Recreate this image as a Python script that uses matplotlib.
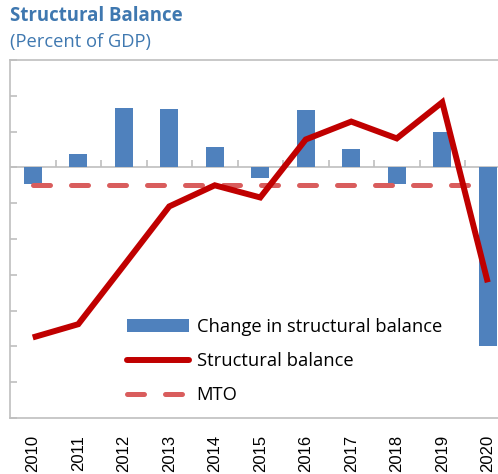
import numpy as np
import matplotlib.pyplot as plt
from matplotlib.patches import Patch
from matplotlib.lines import Line2D

years = ['2010', '2011', '2012', '2013', '2014', '2015',
         '2016', '2017', '2018', '2019', '2020']
change = [-0.45, 0.37, 1.65, 1.62, 0.56, -0.30, 1.60, 0.50, -0.47, 1.00, -5.00]
balance = [-4.75, -4.38, -2.74, -1.09, -0.50, -0.84, 0.78, 1.28, 0.81, 1.82, -3.21]
mto = [-0.5] * 11

BLUE = '#4F81BD'
RED = '#C00000'
MTO_RED = '#D95D5D'
GREY = '#BFBFBF'
TITLE = '#3F78B0'

plt.rcParams['font.family'] = ['Open Sans', 'DejaVu Sans']

W, H = 498, 474
fig = plt.figure(figsize=(W / 100, H / 100), dpi=100)
# plot area runs past the right edge of the picture, like the original
ax = fig.add_axes([10 / W, 56 / H, 500.5 / W, 358 / H])

x = np.arange(len(years))
ax.bar(x, change, width=0.4, color=BLUE, zorder=2)
ax.axhline(0, color=GREY, lw=1.2, zorder=1)
ax.vlines(x[:-1] + 0.5, 0, 0.2, color=GREY, lw=1.2, zorder=1)

mto_line, = ax.plot(x, mto, color=MTO_RED, lw=3.6, solid_capstyle='round',
                    dash_capstyle='round', zorder=3)
mto_line.set_dashes((3.4, 4.2))
ax.plot(x, balance, color=RED, lw=4.3, solid_joinstyle='miter',
        solid_capstyle='butt', zorder=4)

ax.set_xlim(-0.5, 10.5)
ax.set_ylim(-7, 3)
ax.set_yticks(range(-7, 4))
ax.set_yticklabels([])
ax.tick_params(axis='y', direction='in', length=5, color=GREY, width=1.2)
ax.set_xticks(x)
ax.set_xticklabels(years, rotation=90, fontsize=12, family='Liberation Sans')
ax.tick_params(axis='x', length=0, pad=12)
for side in ['top', 'left', 'bottom']:
    ax.spines[side].set_color(GREY)
    ax.spines[side].set_linewidth(1.2)
ax.spines['right'].set_visible(False)

handles = [
    Patch(facecolor=BLUE, edgecolor='none'),
    Line2D([0], [0], color=RED, lw=4.3, solid_capstyle='round'),
    Line2D([0], [0], color=MTO_RED, lw=3.6, dashes=(3.4, 4.2),
           dash_capstyle='round'),
]
labels = ['Change in structural balance', 'Structural balance', 'MTO']
fig.legend(handles, labels, loc='upper left',
           bbox_to_anchor=(127 / W, 1 - 318 / H), bbox_transform=fig.transFigure,
           frameon=False, fontsize=13.2, handlelength=3.4, handleheight=0.7,
           handletextpad=0.4, labelspacing=0.88, borderpad=0, borderaxespad=0)

fig.text(10 / W, 1 - 16 / H, 'Structural Balance', fontsize=13.4,
         fontweight='bold', color=TITLE, va='center')
fig.text(10 / W, 1 - 42 / H, '(Percent of GDP)', fontsize=13.2,
         color=TITLE, va='center')

fig.savefig('out.png', dpi=100)
